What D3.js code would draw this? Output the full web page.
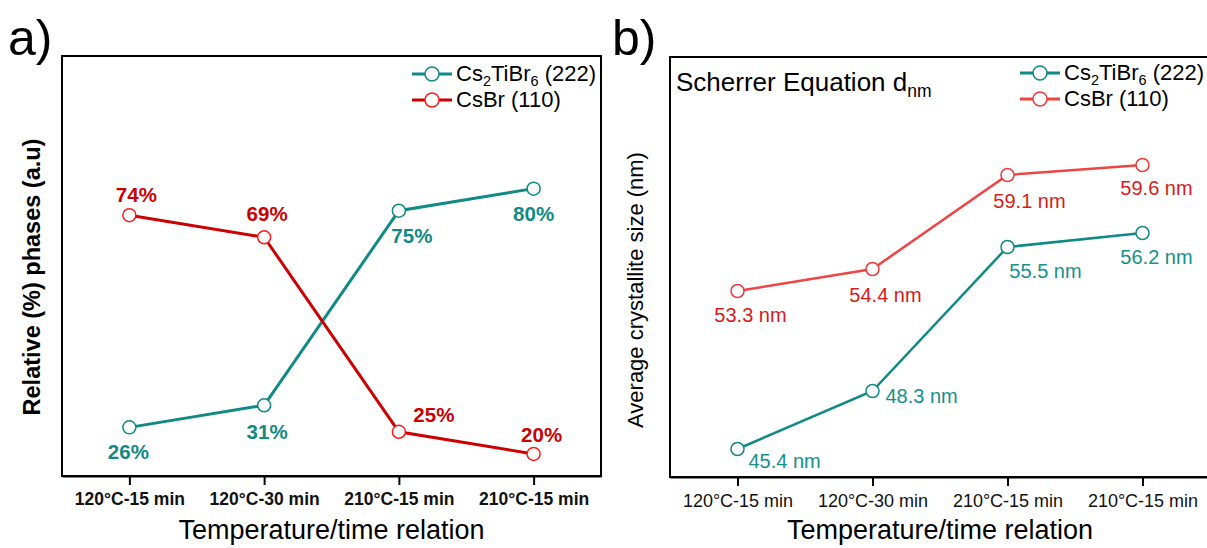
<!DOCTYPE html>
<html>
<head>
<meta charset="utf-8">
<script src="https://cdn.jsdelivr.net/npm/d3@7"></script>
<style>
  body { margin: 0; background: #fff; }
  svg { display: block; font-family: "Liberation Sans", Arial, sans-serif; }
</style>
</head>
<body>
<svg id="chart" width="1207" height="548"></svg>
<script>
// categories shared by both panels
var conditions = ["120°C-15 min", "120°C-30 min", "210°C-15 min", "210°C-15 min "];

// panel a - relative phases (%)
var phaseTi = [26, 31, 75, 80];
var phaseBr = [74, 69, 25, 20];

// panel b - crystallite size (nm)
var sizeTi = [45.4, 48.3, 55.5, 56.2];
var sizeBr = [53.3, 54.4, 59.1, 59.6];

var TEAL = "#0f8a84";

var svg = d3.select("#chart");

function panel(opt) {
    var g = svg.append("g");
    var x = d3.scalePoint().domain(conditions).range([opt.left, opt.right]).padding(0.5);
    var y = d3.scaleLinear().domain(opt.yDomain).range([opt.bottom, opt.top]);

    // frame
    g.append("rect")
        .attr("x", opt.left).attr("y", opt.top)
        .attr("width", opt.right - opt.left).attr("height", opt.bottom - opt.top)
        .attr("fill", "none").attr("stroke", "#000").attr("stroke-width", 2);

    var xAxis = g.append("g")
        .attr("transform", "translate(0," + opt.bottom + ")")
        .call(d3.axisBottom(x).tickSize(9).tickPadding(8).tickSizeOuter(0));
    xAxis.select(".domain").attr("stroke-width", 2);
    xAxis.selectAll(".tick line").attr("stroke-width", 2);
    xAxis.selectAll(".tick text")
        .attr("font-size", opt.bold ? 17.5 : 18)
        .attr("font-weight", opt.bold ? "bold" : "normal")
        .attr("font-family", "Liberation Sans, Arial, sans-serif")
        .attr("fill", "#111");

    g.append("text")
        .attr("x", (opt.left + opt.xTitleRight) / 2).attr("y", 539)
        .attr("text-anchor", "middle").attr("font-size", 27)
        .text("Temperature/time relation");

    g.append("text")
        .attr("transform", "translate(" + opt.yTitleX + "," + opt.yTitleY + ") rotate(-90)")
        .attr("text-anchor", "middle")
        .attr("font-size", opt.bold ? 23.5 : 22)
        .attr("font-weight", opt.bold ? "bold" : "normal")
        .text(opt.yTitle);

    g.append("text")
        .attr("x", opt.tagX).attr("y", 55)
        .attr("font-size", 50)
        .text(opt.tag);

    opt.series.forEach(function (s) {
        var pts = s.values.map(function (v, i) { return [x(conditions[i]), y(v)]; });
        g.append("path")
            .attr("d", d3.line()(pts))
            .attr("fill", "none")
            .attr("stroke", s.line)
            .attr("stroke-width", opt.lineWidth);
        g.selectAll(null).data(pts).enter().append("circle")
            .attr("cx", function (d) { return d[0]; })
            .attr("cy", function (d) { return d[1]; })
            .attr("r", 6.5)
            .attr("fill", "#fff")
            .attr("stroke", s.marker)
            .attr("stroke-width", 1.5);
        g.selectAll(null).data(s.values).enter().append("text")
            .attr("x", function (d, i) { return pts[i][0] + s.labelPos[i][0]; })
            .attr("y", function (d, i) { return pts[i][1] + s.labelPos[i][1]; })
            .attr("text-anchor", function (d, i) { return s.labelPos[i][2] || "middle"; })
            .attr("font-size", opt.bold ? 20.5 : 20)
            .attr("font-weight", opt.bold ? "bold" : "normal")
            .attr("fill", s.text)
            .text(function (d) { return s.fmt(d); });
    });

    // legend
    opt.series.forEach(function (s, i) {
        var ly = opt.legendY + i * 26;
        var lg = g.append("g");
        lg.append("line")
            .attr("x1", opt.legendX).attr("x2", opt.legendX + 40)
            .attr("y1", ly).attr("y2", ly)
            .attr("stroke", s.line).attr("stroke-width", 3);
        lg.append("circle")
            .attr("cx", opt.legendX + 20).attr("cy", ly).attr("r", 7)
            .attr("fill", "#fff").attr("stroke", s.marker).attr("stroke-width", 1.5);
        var t = lg.append("text")
            .attr("x", opt.legendX + 44).attr("y", ly + 7)
            .attr("font-size", 22);
        s.legend.forEach(function (part) {
            var ts = t.append("tspan").text(part[0]);
            if (part[1] === "sub") ts.attr("font-size", 14.5).attr("dy", 5);
            if (part[1] === "back") ts.attr("dy", -5);
        });
    });
}

var pct = function (d) { return d + "%"; };
var nm = function (d) { return d.toFixed(1) + " nm"; };
var legendTi = [["Cs"], ["2", "sub"], ["TiBr", "back"], ["6", "sub"], [" (222)", "back"]];
var legendBr = [["CsBr (110)"]];

panel({
    left: 62, right: 601, top: 56, bottom: 476,
    yDomain: [15, 110], bold: true, lineWidth: 3,
    tag: "a)", tagX: 8, yTitleX: 40, yTitleY: 277, xTitleRight: 601,
    yTitle: "Relative (%) phases (a.u)",
    legendX: 412, legendY: 74,
    series: [
        { values: phaseTi, line: TEAL, marker: TEAL, text: TEAL, fmt: pct, legend: legendTi,
          labelPos: [[-1, 32], [3, 34], [13, 32], [0, 32]] },
        { values: phaseBr, line: "#cc0000", marker: "#ff1a1a", text: "#cc0000", fmt: pct, legend: legendBr,
          labelPos: [[7, -13], [3, -16], [35, -10], [8, -12]] }
    ]
});

panel({
    left: 670, right: 1210, top: 57, bottom: 477,
    yDomain: [44, 65], bold: false, lineWidth: 2.5,
    tag: "b)", tagX: 612, yTitleX: 643, yTitleY: 290, xTitleRight: 1210,
    yTitle: "Average crystallite size (nm)",
    legendX: 1020, legendY: 73,
    series: [
        { values: sizeTi, line: TEAL, marker: TEAL, text: "#14918a", fmt: nm, legend: legendTi,
          labelPos: [[11, 19, "start"], [13, 12, "start"], [38, 31], [14, 31]] },
        { values: sizeBr, line: "#ef4444", marker: "#f03a3a", text: "#d91a1a", fmt: nm, legend: legendBr,
          labelPos: [[13, 31], [13, 33], [22, 33], [14, 30]] }
    ]
});

// panel b annotation
var ann = svg.append("text").attr("x", 676).attr("y", 91).attr("font-size", 26);
ann.append("tspan").text("Scherrer Equation d");
ann.append("tspan").attr("font-size", 17.5).attr("dy", 6).text("nm");
</script>
</body>
</html>
